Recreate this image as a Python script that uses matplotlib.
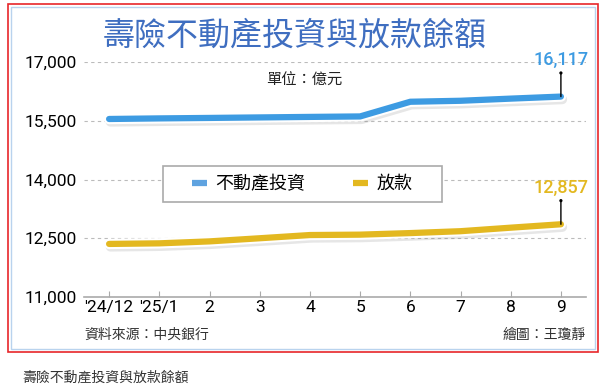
import matplotlib.pyplot as plt
import matplotlib.patheffects as pe
from matplotlib.patches import Rectangle

months = ["'24/12", "'25/1", "2", "3", "4", "5", "6", "7", "8", "9"]
realestate = [15545, 15560, 15572, 15585, 15598, 15610, 15985, 16010, 16065, 16117]
loans = [12355, 12370, 12420, 12500, 12582, 12592, 12632, 12680, 12770, 12857]
yticks = [11000, 12500, 14000, 15500, 17000]

CJK = ['Noto Sans CJK TC', 'DejaVu Sans']
NUM = ['Roboto', 'DejaVu Sans']
BLUE = '#3d9be2'
GOLD = '#e3b820'

W, H = 609, 388
fig = plt.figure(figsize=(W / 100, H / 100), dpi=100)
fig.patch.set_facecolor('white')

# frames
fig.add_artist(Rectangle((8 / W, 1 - 352 / H), 590 / W, 348 / H, transform=fig.transFigure,
                         fill=False, edgecolor='#e8262a', lw=1.2))
fig.add_artist(Rectangle((11 / W, 1 - 349 / H), 584 / W, 342 / H, transform=fig.transFigure,
                         fill=False, edgecolor='#b9d3ee', lw=1.0))

ax = fig.add_axes([84 / W, 1 - 297 / H, 502 / W, 235 / H])
x = list(range(len(months)))

for vals, c in [(realestate, BLUE), (loans, GOLD)]:
    ax.plot(x, vals, color=c, lw=4.5, solid_capstyle='round', solid_joinstyle='round', zorder=3,
            path_effects=[pe.SimpleLineShadow(offset=(1, -2), shadow_color='#777777', alpha=0.18, linewidth=7),
                          pe.Stroke(linewidth=7.5, foreground='white'), pe.Normal()])

ax.set_xlim(-0.5, 9.5)
ax.set_ylim(11000, 17000)
ax.set_yticks(yticks)
ax.set_yticklabels([f'{v:,}' for v in yticks], fontsize=12.5, family=NUM)
ax.set_xticks(x)
ax.set_xticklabels(months, fontsize=12.5, family=NUM)
for s in ['top', 'right', 'left']:
    ax.spines[s].set_visible(False)
ax.spines['bottom'].set_color('#aaaaaa')
ax.spines['bottom'].set_linewidth(1.2)
ax.tick_params(axis='y', length=0, pad=5)
ax.tick_params(axis='x', length=4, color='#aaaaaa', pad=2, direction='in')
for v in yticks[1:]:
    ax.axhline(v, color='#bbbbbb', lw=0.8, ls=(0, (3, 3)), zorder=1)

# end-value callouts
for vals, c in [(realestate, BLUE), (loans, GOLD)]:
    ax.annotate('', xy=(9, vals[-1]), xytext=(0, 17), textcoords='offset points',
                arrowprops=dict(arrowstyle='-', color='black', lw=1, shrinkA=0, shrinkB=0), zorder=4)
    ax.annotate('.', xy=(9, vals[-1]), xytext=(0, 17), textcoords='offset points', ha='center', va='center',
                fontsize=1, bbox=dict(boxstyle='circle,pad=0.8', fc='black', ec='black', lw=0))
    ax.annotate(f'{vals[-1]:,}', xy=(9, vals[-1]), xytext=(0, 20), textcoords='offset points',
                ha='center', va='bottom', fontsize=13, color=c, fontweight='medium', family=NUM,
                annotation_clip=False)

# legend (frame drawn separately for wider side padding)
ax.add_patch(Rectangle((0.157, 0.404), 0.556, 0.153, transform=ax.transAxes, facecolor='white',
                       edgecolor='#aaaaaa', lw=1.2, zorder=5))
h1, = ax.plot([], [], color='#5fa3e0', lw=4.5, solid_capstyle='butt')
h2, = ax.plot([], [], color=GOLD, lw=4.5, solid_capstyle='butt')
leg = ax.legend([h1, h2], ['不動產投資', '放款'], loc='center', bbox_to_anchor=(0.435, 0.481), ncol=2,
                prop={'family': CJK, 'size': 13}, frameon=False,
                handlelength=0.83, handletextpad=0.45, columnspacing=2.67, borderpad=0.3,
                borderaxespad=0)
leg.set_zorder(6)

# texts
fig.text(295 / W, 1 - 36 / H, '壽險不動產投資與放款餘額', ha='center', va='center', fontsize=23,
         fontweight='medium', color='#3f6ec0', family=CJK)
fig.text(304 / W, 1 - 80 / H, '單位：億元', ha='center', va='center', fontsize=11, family=CJK, color='#222222')
fig.text(84 / W, 1 - 335 / H, '資料來源：中央銀行', ha='left', va='center', fontsize=10, family=CJK, color='#333333')
fig.text(586 / W, 1 - 335 / H, '繪圖：王瓊靜', ha='right', va='center', fontsize=10, family=CJK, color='#333333')
fig.text(22 / W, 1 - 378 / H, '壽險不動產投資與放款餘額', ha='left', va='center', fontsize=10, family=CJK, color='#333333')

fig.savefig('out.png', dpi=100)
